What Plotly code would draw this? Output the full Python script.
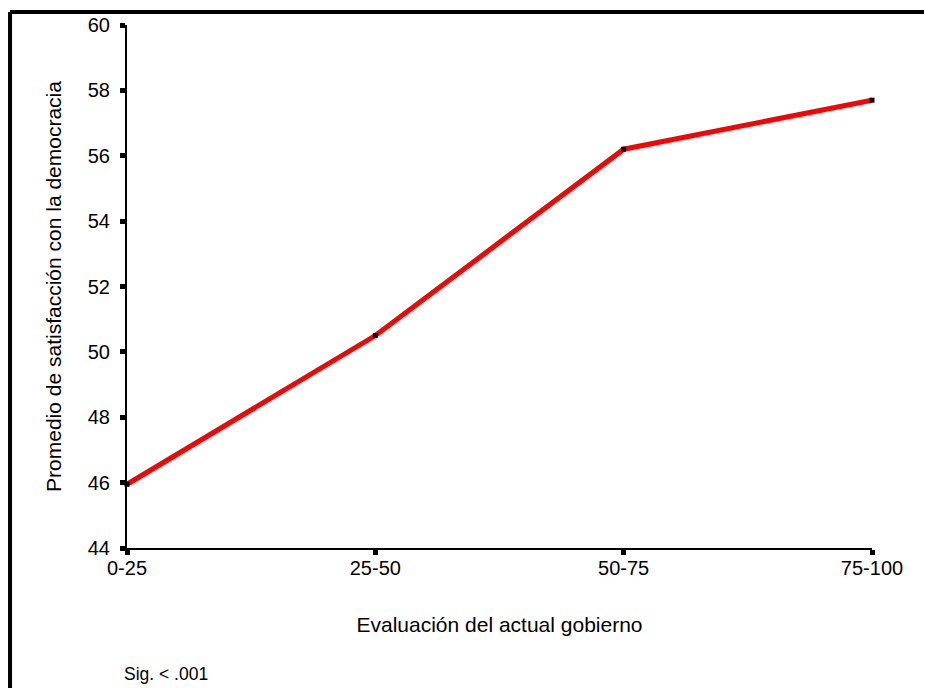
import plotly.graph_objects as go

categories = ["0-25", "25-50", "50-75", "75-100"]
satisfaction = [45.95, 50.5, 56.2, 57.7]
y_ticks = [44, 46, 48, 50, 52, 54, 56, 58, 60]

x_title = "Evaluación del actual gobierno"
y_title = "Promedio de satisfacción con la democracia"
note = "Sig. < .001"

FONT = "Liberation Sans, Arial, sans-serif"

fig = go.Figure()
fig.add_trace(go.Scatter(
    x=list(range(len(categories))),
    y=satisfaction,
    mode="lines+markers",
    line=dict(color="#ff0000", width=5),
    marker=dict(color="black", symbol="square", size=5, line=dict(width=0)),
    cliponaxis=False,
    showlegend=False,
    hoverinfo="skip",
))

fig.update_layout(
    width=924, height=680,
    margin=dict(l=119, r=60, t=17, b=140, autoexpand=False),
    paper_bgcolor="white", plot_bgcolor="white",
    font=dict(family=FONT, color="black", size=20),
    xaxis=dict(
        range=[0, len(categories) - 1],
        tickmode="array",
        tickvals=list(range(len(categories))),
        ticktext=categories,
        showgrid=False, zeroline=False,
        showline=True, linecolor="black", linewidth=2,
        ticks="outside", ticklen=5, tickwidth=5, tickcolor="black",
        tickfont=dict(size=20),
        ticklabelstandoff=-4,
        automargin=False,
        title=dict(text=x_title, font=dict(size=21), standoff=39),
    ),
    yaxis=dict(
        range=[44, 60],
        tickvals=y_ticks,
        showgrid=False, zeroline=False,
        showline=True, linecolor="black", linewidth=2,
        ticks="outside", ticklen=5, tickwidth=5, tickcolor="black",
        tickfont=dict(size=20),
        ticklabelstandoff=6,
        automargin=False,
        title=dict(text=y_title, font=dict(size=21), standoff=20),
    ),
    annotations=[dict(
        text=note, xref="paper", yref="paper", x=0, y=0,
        xanchor="left", yanchor="middle", xshift=-5, yshift=-126,
        showarrow=False, font=dict(size=17.5),
    )],
    shapes=[
        dict(type="line", xref="paper", yref="paper",
             x0=-0.157, x1=1.2, y0=1.0249, y1=1.0249,
             line=dict(color="black", width=4)),
        dict(type="line", xref="paper", yref="paper",
             x0=-0.157, x1=-0.157, y0=1.0249, y1=-0.4,
             line=dict(color="black", width=4)),
    ],
)

fig.write_html("out.html")
